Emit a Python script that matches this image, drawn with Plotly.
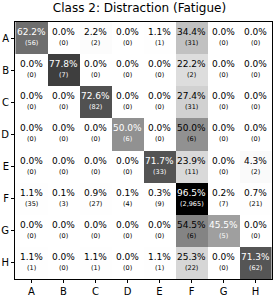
import plotly.graph_objects as go

labels = ["A", "B", "C", "D", "E", "F", "G", "H"]
counts = [
    [56, 0, 2, 0, 1, 31, 0, 0],
    [0, 7, 0, 0, 0, 2, 0, 0],
    [0, 0, 82, 0, 0, 31, 0, 0],
    [0, 0, 0, 6, 0, 6, 0, 0],
    [0, 0, 0, 0, 33, 11, 0, 2],
    [35, 3, 27, 4, 9, 2965, 7, 21],
    [0, 0, 0, 0, 0, 6, 5, 0],
    [1, 0, 1, 0, 1, 22, 0, 62],
]
title = "Class 2: Distraction (Fatigue)"

pct = []
for row in counts:
    s = sum(row)
    pct.append([100.0 * c / s for c in row])
zmax = max(max(r) for r in pct)

greys = [[0, '#ffffff'], [0.125, '#f0f0f0'], [0.25, '#d9d9d9'], [0.375, '#bdbdbd'],
         [0.5, '#969696'], [0.625, '#737373'], [0.75, '#525252'], [0.875, '#252525'],
         [1, '#000000']]

fig = go.Figure(go.Heatmap(z=pct, x=labels, y=labels, colorscale=greys, zmin=0, zmax=zmax,
                           showscale=False, hoverinfo="skip"))

anns = []
for i, yl in enumerate(labels):
    for j, xl in enumerate(labels):
        col = "#ffffff" if i == j else "#000000"
        anns.append(dict(x=xl, y=yl, xref="x", yref="y", showarrow=False,
                         text=f"{pct[i][j]:.1f}%",
                         font=dict(family="DejaVu Sans", size=9, color=col),
                         yshift=6))
        anns.append(dict(x=xl, y=yl, xref="x", yref="y", showarrow=False,
                         text=f"({counts[i][j]:,})",
                         font=dict(family="DejaVu Sans", size=6.5, color=col),
                         yshift=-5))
fig.update_layout(
    width=279, height=298,
    margin=dict(l=15, r=7, t=22, b=19),
    paper_bgcolor="white", plot_bgcolor="white",
    title=dict(text=title, x=0.5, xanchor="center", y=0.973, yanchor="middle",
               font=dict(family="DejaVu Sans", size=12, color="black")),
    annotations=anns,
    font=dict(family="DejaVu Sans", size=10, color="black"),
)
fig.update_xaxes(showline=True, linecolor="black", linewidth=1, mirror=True,
                 ticks="outside", ticklen=3, tickcolor="black", showgrid=False,
                 zeroline=False, tickfont=dict(size=10), automargin=False)
fig.update_yaxes(showline=True, linecolor="black", linewidth=1, mirror=True,
                 ticks="outside", ticklen=3, tickcolor="black", showgrid=False,
                 zeroline=False, autorange="reversed", tickfont=dict(size=10),
                 automargin=False, ticklabelstandoff=0)
fig.write_html("out.html", config={"displayModeBar": False},
               post_script="document.body.style.margin='0';document.body.style.overflow='hidden';")
